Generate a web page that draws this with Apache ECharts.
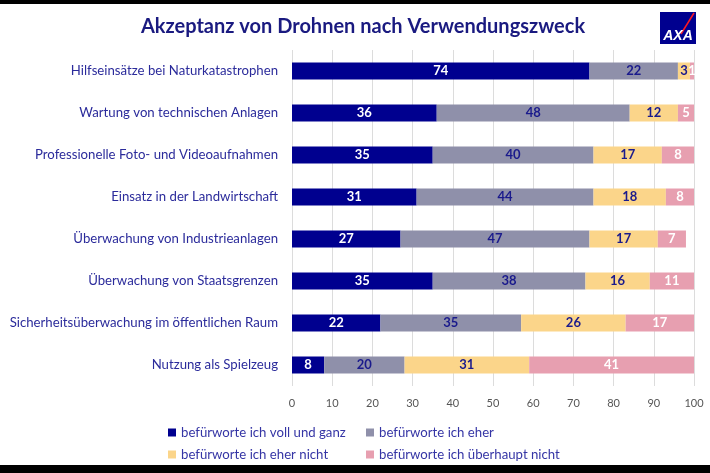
<!DOCTYPE html>
<html><head><meta charset="utf-8">
<script src="https://cdn.jsdelivr.net/npm/echarts@6/dist/echarts.min.js"></script>
<style>html,body{margin:0;padding:0;background:#fff}#c{width:710px;height:473px}</style>
</head><body><div id="c"></div>
<script>
const categories = [
  "Hilfseinsätze bei Naturkatastrophen",
  "Wartung von technischen Anlagen",
  "Professionelle Foto- und Videoaufnahmen",
  "Einsatz in der Landwirtschaft",
  "Überwachung von Industrieanlagen",
  "Überwachung von Staatsgrenzen",
  "Sicherheitsüberwachung im öffentlichen Raum",
  "Nutzung als Spielzeug"
];
const seriesNames = [
  "befürworte ich voll und ganz",
  "befürworte ich eher",
  "befürworte ich eher nicht",
  "befürworte ich überhaupt nicht"
];
const vollUndGanz = [74, 36, 35, 31, 27, 35, 22, 8];
const eher = [22, 48, 40, 44, 47, 38, 35, 20];
const eherNicht = [3, 12, 17, 18, 17, 16, 26, 31];
const ueberhauptNicht = [1, 5, 8, 8, 7, 11, 17, 41];
const xTicks = [0, 10, 20, 30, 40, 50, 60, 70, 80, 90, 100];

const colors = ["#00008f", "#8f90aa", "#fbd58a", "#e79fb0"];
const labelColors = ["#ffffff", "#1a1a8c", "#1a1a8c", "#ffffff"];
const values = [vollUndGanz, eher, eherNicht, ueberhauptNicht];
const FONT = "Lato, 'Open Sans', sans-serif";

const chart = echarts.init(document.getElementById('c'), null, {renderer: 'canvas'});

const legendPos = [[163, 421], [361, 421], [163, 443], [361, 443]];

chart.setOption({
  animation: false,
  backgroundColor: '#ffffff',
  title: {
    text: 'Akzeptanz von Drohnen nach Verwendungszweck',
    left: 358, textAlign: 'center', top: 12,
    textStyle: {color: '#1a1a80', fontSize: 20, fontWeight: 'bold', fontFamily: FONT}
  },
  grid: {left: 292, right: 16, top: 50, bottom: 87},
  xAxis: {
    type: 'value', min: 0, max: 100, interval: 10,
    axisLine: {show: false}, axisTick: {show: false},
    splitLine: {lineStyle: {color: '#dcdcdc', width: 1}},
    axisLabel: {color: '#555555', fontSize: 11, fontFamily: FONT, margin: 12,
      formatter: v => xTicks.includes(v) ? String(v) : ''}
  },
  yAxis: {
    type: 'category', data: categories, inverse: true,
    axisLine: {show: false}, axisTick: {show: false},
    axisLabel: {color: '#2b2b9b', fontSize: 13.2, fontFamily: FONT, margin: 14}
  },
  legend: seriesNames.map((n, i) => ({
    data: [n], left: legendPos[i][0], top: legendPos[i][1],
    itemWidth: 8, itemHeight: 8, itemGap: 6, icon: 'rect',
    textStyle: {color: '#3535a5', fontSize: 13.2, fontFamily: FONT, padding: [0, 0, 0, 0]}
  })),
  series: seriesNames.map((n, i) => ({
    name: n, type: 'bar', stack: 'total', barWidth: 17, clip: true,
    data: values[i],
    itemStyle: {color: colors[i]},
    label: {show: true, position: 'inside', color: labelColors[i], fontWeight: 'bold',
      fontSize: 13, fontFamily: FONT}
  })),
  graphic: [
    {type: 'rect', shape: {x: 0, y: 0, width: 710, height: 4}, style: {fill: '#000'}, z: 100},
    {type: 'rect', shape: {x: 0, y: 465, width: 710, height: 8}, style: {fill: '#000'}, z: 100},
    {type: 'rect', shape: {x: 660, y: 12, width: 36, height: 32}, style: {fill: '#00008f'}, z: 100},
    {type: 'line', shape: {x1: 681, y1: 34, x2: 694, y2: 13}, style: {stroke: '#ff1721', lineWidth: 1.5}, z: 101},
    {type: 'text', style: {text: 'AXA', x: 678, y: 36, textAlign: 'center', textVerticalAlign: 'middle',
      fill: '#ffffff', font: 'bold italic 14px "Liberation Sans", sans-serif'}, z: 102}
  ]
});
</script></body></html>
